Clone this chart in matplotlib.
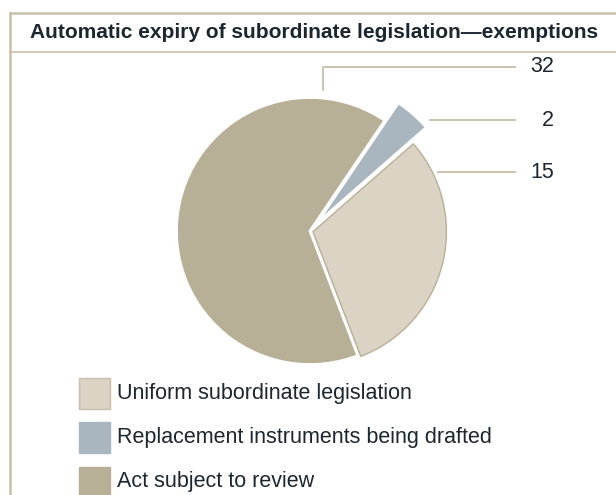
import matplotlib
matplotlib.use("Agg")
import matplotlib.pyplot as plt

title = "Automatic expiry of subordinate legislation\u2014exemptions"
categories = ["Uniform subordinate legislation", "Replacement instruments being drafted", "Act subject to review"]
values = [15, 2, 32]
colors = ["#dbd3c3", "#a9b5bf", "#b8af97"]

FW, FH = 616, 495
fig = plt.figure(figsize=(FW/100, FH/100), dpi=100)
ax = fig.add_axes([0, 0, 1, 1])
ax.set_xlim(0, FW)
ax.set_ylim(0, FH)
ax.set_aspect('equal')
ax.axis('off')

font = ['Liberation Sans']
tc = "#1c2630"

def Y(p):
    return FH - p

# frame
line_c = "#c9bfa9"
ax.plot([9.5, 9.5], [Y(12.5), 0], color=line_c, lw=1.8)
ax.plot([9.5, FW], [Y(12.5), Y(12.5)], color=line_c, lw=1.8)
ax.plot([9.5, FW], [Y(52), Y(52)], color=line_c, lw=1.2)
ax.text(314, Y(32), title, ha='center', va='center', fontsize=15, fontweight='bold',
        family=font, color=tc)

cx, cy, r = 310, Y(231), 133.5
wedges, _ = ax.pie(values, colors=colors, startangle=-69, counterclock=True,
                   center=(cx, cy), radius=r, explode=[3, 21, 0],
                   wedgeprops=dict(linewidth=0))
wedges[0].set_edgecolor("#b9af96"); wedges[0].set_linewidth(1.0)
wedges[2].set_edgecolor("white"); wedges[2].set_linewidth(2.0)
wedges[0].set_zorder(3)
ax.set_xlim(0, FW); ax.set_ylim(0, FH)

# leader lines and value labels
lead_c = "#c4b99f"
ax.plot([323, 323, 515], [Y(90), Y(67), Y(67)], color=lead_c, lw=1.2)
ax.plot([430, 515], [Y(120), Y(120)], color=lead_c, lw=1.2)
ax.plot([438, 515], [Y(172), Y(172)], color=lead_c, lw=1.2)
for v, yy in zip([values[2], values[1], values[0]], [67, 120, 172]):
    ax.text(554, Y(yy), str(v), ha='right', va='center', fontsize=15.5, family=font, color=tc)

# legend
for i, (lab, c) in enumerate(zip(categories, colors)):
    yc = 393 + i*44.5
    ec = "#c9bfa9" if i == 0 else c
    ax.add_patch(plt.Rectangle((79, Y(yc+15.5)), 31, 31, facecolor=c, edgecolor=ec, lw=1))
    ax.text(117, Y(yc), lab, ha='left', va='center', fontsize=15.5, family=font, color=tc)

fig.savefig("out.png", dpi=100)
